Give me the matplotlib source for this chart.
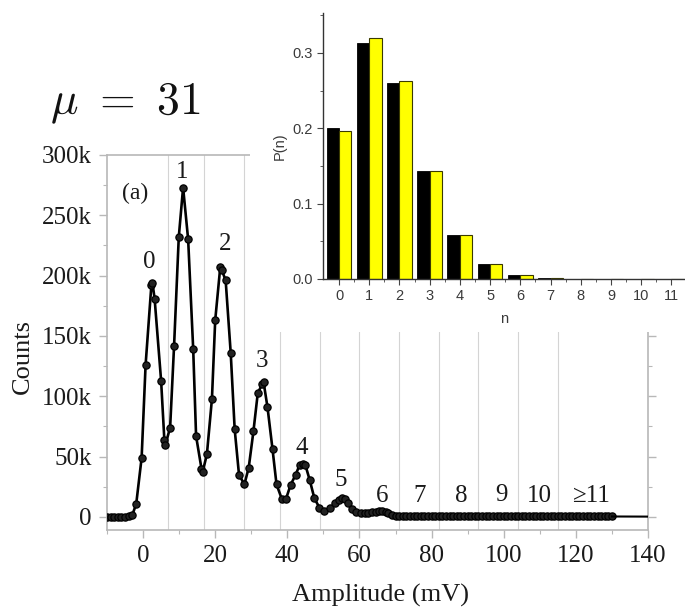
import matplotlib
matplotlib.use("Agg")
import matplotlib.pyplot as plt
from matplotlib.patches import Rectangle
from matplotlib.ticker import MultipleLocator, FixedLocator

# ---------------- data ----------------
# pulse-height spectrum (amplitude in mV, counts in thousands)
amp_mv = [-10, -9, -8, -7, -6, -5, -4, -3,
          -1.9, -0.4, 0.7, 2.3, 2.6, 3.2, 5.0, 5.9, 6.2, 7.5, 8.6, 9.9, 11.1,
          12.5, 13.9, 14.7, 16.2, 16.5, 17.7, 19.1, 20.0, 21.4, 21.8, 22.9,
          24.3, 25.4, 26.6, 28.1, 29.3, 30.6, 31.8, 33.0, 33.4, 34.5, 35.9,
          37.0, 38.5, 39.6, 40.9, 42.3, 43.4, 44.3, 45.0, 46.2, 47.5, 48.9,
          50.3, 51.9, 53.3, 54.3, 55.2, 56.0, 56.9, 58.0, 59.0, 60.3, 61.5,
          62.5, 63.5, 64.5, 65.5, 66.3, 67.3, 68.0, 69.0, 70.0,
          71, 72, 73, 74, 75, 76, 77, 78, 79, 80,
          81, 82, 83, 84, 85, 86, 87, 88, 89, 90,
          91, 92, 93, 94, 95, 96, 97, 98, 99, 100,
          101, 102, 103, 104, 105, 106, 107, 108, 109, 110,
          111, 112, 113, 114, 115, 116, 117, 118, 119, 120,
          121, 122, 123, 124, 125, 126, 127, 128, 129, 130]
counts_k = [0.3, 0.3, 0.3, 0.3, 0.3, 0.3, 0.4, 1.5,
            10.8, 49, 126, 192, 194, 181, 113, 64, 60, 74, 142, 232, 273,
            230, 139, 67, 40, 37, 52, 98, 163, 207, 205, 196,
            136, 72.7, 35, 27, 41, 71, 102.5, 110, 112, 91, 56,
            27, 14.7, 14.7, 26.5, 35, 43, 44, 43, 30.7, 15.5, 7.7,
            5.2, 7.7, 11.4, 14, 16, 14.5, 11.4, 7, 4, 3, 3,
            3.5, 4, 4.5, 5, 5.2, 4.5, 3, 1.5, 0.8,
            0.6, 0.6, 0.5, 0.5, 0.5, 0.5, 0.5, 0.5, 0.5, 0.5,
            0.4, 0.4, 0.4, 0.4, 0.4, 0.4, 0.4, 0.4, 0.4, 0.4,
            0.4, 0.4, 0.4, 0.4, 0.4, 0.4, 0.4, 0.4, 0.4, 0.4,
            0.4, 0.4, 0.4, 0.4, 0.4, 0.4, 0.4, 0.4, 0.4, 0.4,
            0.4, 0.4, 0.4, 0.4, 0.4, 0.4, 0.4, 0.4, 0.4, 0.4,
            0.4, 0.4, 0.4, 0.4, 0.4, 0.4, 0.4, 0.4, 0.4, 0.4]
# fitted curve continuing past the last histogram bin
fit_tail_mv = [130, 140]
fit_tail_k = [0.4, 0.3]

# photoelectron-number windows
bin_edges_mv = [7, 17, 28, 38, 49, 60, 71, 82, 93, 104, 115]
peak_labels = ["0", "1", "2", "3", "4", "5", "6", "7", "8", "9", "10", "\u226511"]
peak_label_x = [1.7, 10.7, 22.8, 33.0, 44.0, 54.7, 66.3, 76.8, 88.2, 99.4, 110.0, 124.2]
peak_label_y_k = [211, 286, 226, 129, 57, 30.7, 17, 17, 17, 18, 17, 17]

x_ticks = [0, 20, 40, 60, 80, 100, 120, 140]
y_ticks_k = [0, 50, 100, 150, 200, 250, 300]
y_tick_labels = ["0", "50k", "100k", "150k", "200k", "250k", "300k"]

# photoelectron-number distribution
n_values = [0, 1, 2, 3, 4, 5, 6, 7, 8, 9, 10, 11]
p_measured = [0.201, 0.313, 0.260, 0.143, 0.059, 0.0195, 0.0057, 0.0013, 0.0003, 0.0001, 0.0, 0.0]
p_poisson = [0.196, 0.320, 0.263, 0.143, 0.059, 0.0195, 0.0057, 0.0015, 0.0004, 0.0001, 0.0, 0.0]
inset_y_ticks = [0.0, 0.1, 0.2, 0.3]
inset_y_tick_labels = ["0.0", "0.1", "0.2", "0.3"]

# ---------------- figure ----------------
W, H = 685, 608
fig = plt.figure(figsize=(W / 100, H / 100), dpi=100)
serif = ["Liberation Serif", "DejaVu Serif"]
txt_col = "#1a1a1a"
spine_col = "#b8b8b8"

def fx(px):
    return px / W

def fy(py):
    return 1 - py / H

# main spectrum axes
ax = fig.add_axes([fx(107), fy(530), fx(648) - fx(107), fy(155) - fy(530)], zorder=0)
ax.set_xlim(-10, 140)
ax.set_ylim(-10.8, 300)

for e in bin_edges_mv:
    ax.axvline(e, color="#d4d4d4", lw=0.8, zorder=1)

ax.plot(amp_mv, counts_k, color="black", lw=1.9, marker="o", ms=5.2,
        mfc="#222222", mec="black", mew=0.9, zorder=3)
ax.plot(fit_tail_mv, fit_tail_k, color="black", lw=1.5, zorder=3)

for lab, x, y in zip(peak_labels, peak_label_x, peak_label_y_k):
    ax.text(x, y, lab, ha="center", va="center", fontsize=18,
            family=serif, color=txt_col, zorder=4)
ax.text(-2.2, 268, "(a)", ha="center", va="center", fontsize=17,
        family=serif, color=txt_col)

ax.set_xticks(x_ticks)
ax.xaxis.set_minor_locator(MultipleLocator(10))
ax.set_yticks(y_ticks_k)
ax.set_yticklabels(y_tick_labels)
ax.yaxis.set_minor_locator(MultipleLocator(25))
ax.tick_params(which="both", direction="out", color=spine_col, labelcolor=txt_col,
               labelsize=18, pad=5)
ax.tick_params(which="major", length=6, width=1)
ax.tick_params(which="minor", length=3, width=0.8)
ax.tick_params(axis="y", which="both", right=True, left=True)
for lab in ax.get_xticklabels() + ax.get_yticklabels():
    lab.set_family(serif)
for s in ax.spines.values():
    s.set_color(spine_col)
    s.set_linewidth(1.2)

fig.text(fx(380), fy(595), "Amplitude (mV)", ha="center", va="center",
         fontsize=19, family=serif, color=txt_col)
fig.text(fx(23), fy(357), "Counts", ha="center", va="center", rotation=90,
         fontsize=19, family=serif, color=txt_col)
fig.text(fx(50), fy(103), r"$\mu\ =\ 31$", ha="left", va="center",
         fontsize=33, math_fontfamily="cm", color="#111111")

# white backing behind the inset
fig.add_artist(Rectangle((fx(250), fy(332)), 1 - fx(250), 1 - fy(332),
                         transform=fig.transFigure, facecolor="white",
                         edgecolor="none", zorder=1))

# inset bar chart
ins = fig.add_axes([fx(323), fy(279), 1 - fx(323), fy(13) - fy(279)], zorder=3)
ins.patch.set_alpha(0)
ins.set_xlim(-0.53, 11.45)
ins.set_ylim(0, 0.353)
bw = 0.41
ins.bar([n - bw / 2 for n in n_values], p_measured, width=bw, color="black",
        edgecolor="black", lw=0.6)
ins.bar([n + bw / 2 for n in n_values], p_poisson, width=bw, color="#ffff00",
        edgecolor="#3a3a00", lw=0.8)
ins.spines["top"].set_visible(False)
ins.spines["right"].set_visible(False)
for s in ("left", "bottom"):
    ins.spines[s].set_color("#333333")
    ins.spines[s].set_linewidth(1.0)
ins.set_xticks(n_values)
ins.xaxis.set_minor_locator(FixedLocator([n + 0.5 for n in n_values]))
ins.set_yticks(inset_y_ticks)
ins.set_yticklabels(inset_y_tick_labels)
ins.yaxis.set_minor_locator(MultipleLocator(0.05))
sans = ["Liberation Sans", "DejaVu Sans"]
ins.tick_params(which="both", direction="out", color="#444444",
                labelcolor="#3a3a3a", labelsize=10.5)
ins.tick_params(which="major", length=4)
ins.tick_params(which="minor", length=2)
for lab in ins.get_xticklabels() + ins.get_yticklabels():
    lab.set_family(sans)
ins.set_xlabel("n", fontsize=10.5, family=sans, color="#3a3a3a", labelpad=6)
ins.set_ylabel("P(n)", fontsize=10.5, family=sans, color="#3a3a3a", labelpad=4)

fig.savefig("out.png", dpi=100)
